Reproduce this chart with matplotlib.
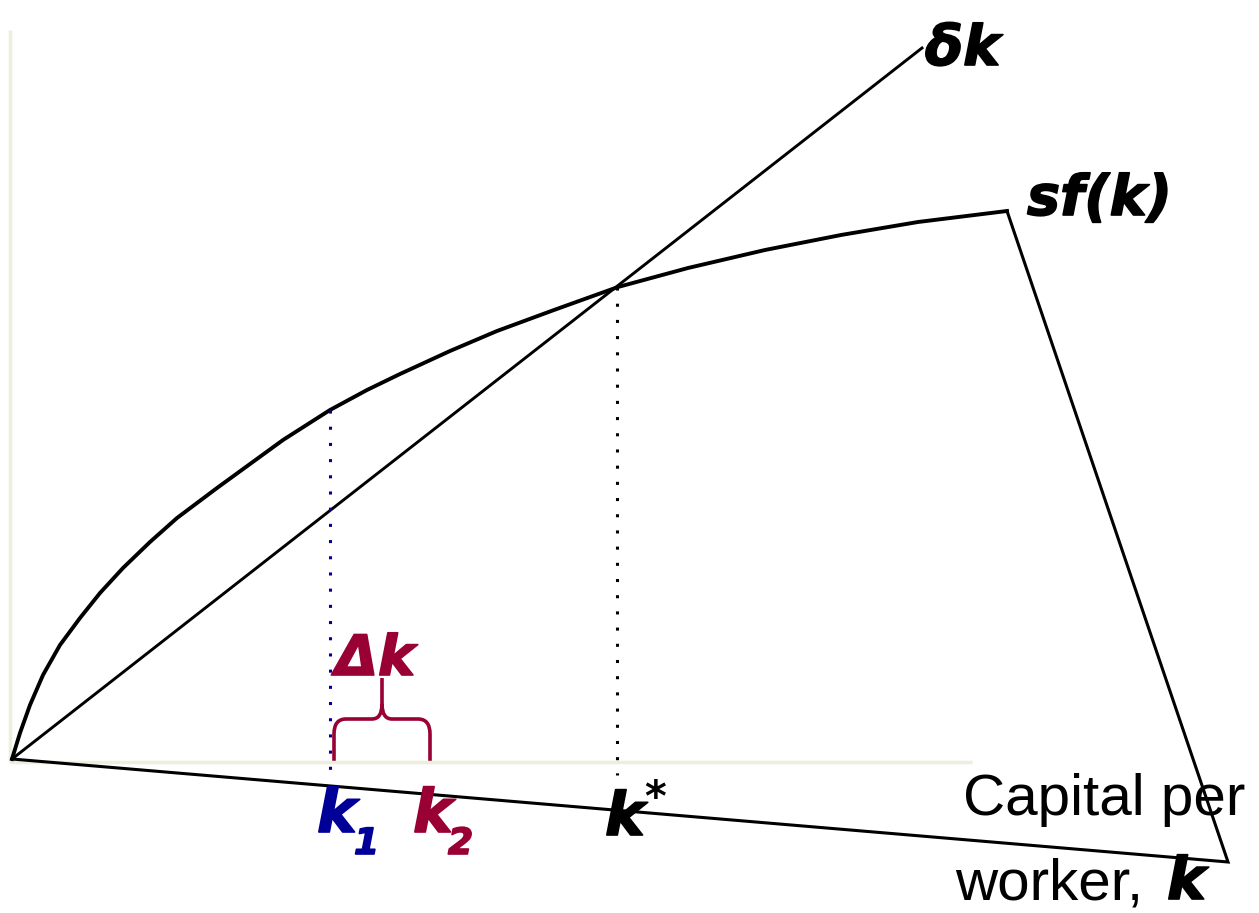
import numpy as np
import matplotlib
matplotlib.use("Agg")
import matplotlib.pyplot as plt
import matplotlib.patheffects as pe
from matplotlib.path import Path
from matplotlib.patches import PathPatch

# sf(k) curve (k, saving per worker)
k_curve = np.array([0, 8, 18, 31, 48, 68, 88, 111, 138, 165, 185, 205, 238, 271,
                    318, 355, 388, 438, 485, 542, 606, 676, 753, 829, 906, 995])
sf_curve = np.array([0, 26, 54, 84, 114, 141, 166, 191, 217, 241, 256, 271, 295, 319,
                     349, 369, 385, 408, 428, 449, 472, 491, 509, 524, 537, 548])
# the outline closes through this corner and back to the origin
corner = (1216, -103)

# depreciation line delta*k
k_delta = np.array([0, 910])
delta_line = np.array([0, 711])

k1, k2, k_star = 318, 418, 605

black = "black"
blue = "#000099"
crimson = "#990033"
axis_col = "#EDEDE0"

fig = plt.figure(figsize=(12.59, 9.13), dpi=100)
ax = fig.add_axes([0, 0, 1, 1])
ax.set_xlim(-12, 1247)
ax.set_ylim(-154, 759)
ax.axis("off")

# faint axes
ax.plot([-2, -2], [-3, 729], color=axis_col, lw=2.5, solid_capstyle="butt")
ax.plot([-2, 960], [-3, -3], color=axis_col, lw=2.5, solid_capstyle="butt")

# sf(k) curve, then the outline down to the corner and back to origin
ax.plot(k_curve, sf_curve, color=black, lw=2.8, solid_joinstyle="round")
ax.plot([k_curve[-1], corner[0], 0], [sf_curve[-1], corner[1], 0],
        color=black, lw=2.2, solid_joinstyle="miter")

ax.plot(k_delta, delta_line, color=black, lw=2.1)

# dotted guides
y_k1 = np.interp(k1, k_curve, sf_curve)
y_ks = np.interp(k_star, k_curve, sf_curve)
ax.plot([k1, k1], [y_k1, -12], color=blue, lw=2.2, linestyle=(0, (1, 4.3)))
ax.plot([k_star, k_star], [y_ks, -16], color=black, lw=2.2, linestyle=(0, (1, 4.3)))

# brace between k1 and k2
l, r = k1 + 4, k2
m = (l + r) / 2
verts = [(l, -3), (l, 25), (l, 40), (l + 12, 40), (m - 10, 40), (m, 40), (m, 55), (m, 81),
         (m, 55), (m, 40), (m + 10, 40), (r - 12, 40), (r, 40), (r, 25), (r, -3)]
codes = [Path.MOVETO, Path.LINETO, Path.CURVE3, Path.CURVE3, Path.LINETO, Path.CURVE3,
         Path.CURVE3, Path.LINETO, Path.MOVETO, Path.CURVE3, Path.CURVE3, Path.LINETO,
         Path.CURVE3, Path.CURVE3, Path.LINETO]
ax.add_patch(PathPatch(Path(verts, codes), facecolor="none", edgecolor=crimson, lw=2.6))


def label(x, y, s, size, color):
    t = ax.text(x, y, s, fontsize=size, color=color, family="DejaVu Sans",
                weight="bold", style="italic", va="baseline", ha="left")
    t.set_path_effects([pe.withStroke(linewidth=1.2, foreground=color)])
    return t


label(913, 694, "δk", 40, black)
label(1015, 544, "sf(k)", 40, black)
label(323, 84, "Δk", 40, crimson)
label(593, -76, "k", 43, black)
ax.text(632, -19, "*", fontsize=30, color=black, family="DejaVu Sans",
        weight="bold", va="top", ha="left")
label(305, -73, "k", 43, blue)
label(342, -95, "1", 26, blue)
label(401, -73, "k", 43, crimson)
label(436, -95, "2", 26, crimson)

ax.text(951, -56, "Capital per", fontsize=42, family="Liberation Sans", va="baseline")
ax.text(943, -140, "worker,", fontsize=42, family="Liberation Sans", va="baseline")
label(1155, -140, "k", 42, black)

fig.savefig("out.png", dpi=100)
